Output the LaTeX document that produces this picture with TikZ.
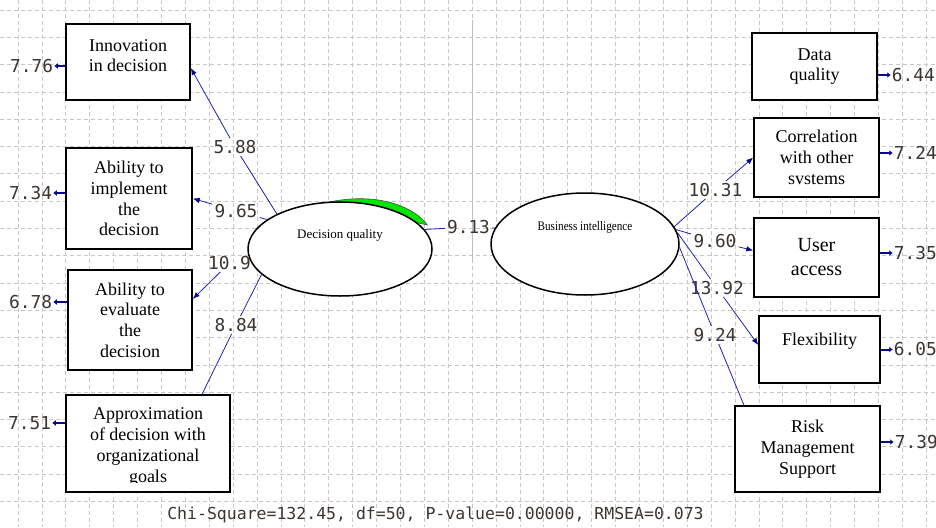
\documentclass[tikz,border=0pt]{standalone}
\usepackage{fontspec}
\setmainfont{Liberation Serif}
\newfontfamily\coeffont{DejaVu Sans Mono}
\usepackage{graphicx}
\usetikzlibrary{positioning, arrows.meta, shapes.geometric}
\pgfdeclarelayer{grid}
\pgfdeclarelayer{background}
\pgfsetlayers{grid,background,main}
\definecolor{pathblue}{RGB}{35,35,175}
\definecolor{tipblue}{RGB}{10,10,140}
\definecolor{valgray}{RGB}{60,54,50}
\definecolor{crescent}{RGB}{0,230,0}

\begin{document}
\begin{tikzpicture}
    [
        x=1pt, y=-1pt,
        grid_line/.style={black!22, line width=0.8pt, dash pattern=on 4pt off 3pt},
        latent_node/.style={ellipse, draw=black, fill=white, line width=1.5pt, inner sep=0pt},
        obs_box/.style={rectangle, draw=black, fill=white, line width=1.5pt, align=center, inner sep=0pt, font=\fontsize{18}{20.7}\selectfont},
        coef_label/.style={inner sep=2pt, text=valgray, font=\coeffont\fontsize{17.8}{20}\selectfont},
        err_label/.style={inner sep=1pt, text=valgray, font=\coeffont\fontsize{17.8}{20}\selectfont},
        path_line/.style={pathblue, line width=0.8pt},
        path_arrow/.style={path_line, -{Latex[length=7pt, width=5.5pt, color=tipblue]}},
        err_line/.style={tipblue, line width=2pt, -{Latex[length=3.5pt, width=6pt]}},
    ]
        \useasboundingbox (0,0) rectangle (936,527);
        \begin{pgfonlayer}{grid}
            \fill[white] (0,0) rectangle (936,527);
            \foreach \i in {0,...,38} \draw[grid_line] ({18+23.9*\i},0) -- ({18+23.9*\i},527);
            \foreach \j in {0,...,18} \draw[grid_line] (0,{10+27.3*\j}) -- (936,{10+27.3*\j});
            \draw[black!25, line width=1pt] (472.5,20) -- (472.5,262);
        \end{pgfonlayer}

        \node[latent_node, minimum width=184pt, minimum height=94pt, label={[font=\fontsize{13}{15}\selectfont, yshift=14pt]center:Decision quality}] (DQ) at (340,249) {};
        \node[latent_node, minimum width=188pt, minimum height=102pt, label={[font=\fontsize{13}{15}\selectfont, yshift=17pt]center:\scalebox{0.86}[1]{Business intelligence}}] (BI) at (585,244) {};

        \node[obs_box, minimum width=124pt, minimum height=76pt] (innov) at (128,62) {Innovation\\in decision\\[-8pt]\mbox{}};
        \node[obs_box, minimum width=126pt, minimum height=101pt] (impl) at (129,198.5) {Ability to\\implement\\the\\decision};
        \node[obs_box, minimum width=124pt, minimum height=100pt] (eval) at (130,320) {Ability to\\evaluate\\the\\decision};
        \node[obs_box, minimum width=164pt, minimum height=97pt] (appr) at (148,443.5) {};
        \begin{scope}
            \clip (appr.north west) rectangle ([yshift=10pt]appr.south east);
            \node[obs_box, draw=none, fill=none] (apprtext) at (148,447) {Approximation\\of decision with\\organizational\\goals};
        \end{scope}

        \node[obs_box, minimum width=125pt, minimum height=67pt] (dataq) at (814.5,66.5) {Data\\quality};
        \node[obs_box, minimum width=125pt, minimum height=79pt] (corr) at (816.5,157.5) {Correlation\\with other\\svstems};
        \node[obs_box, minimum width=125pt, minimum height=79pt, font=\fontsize{20}{24}\selectfont] (user) at (816.5,257.5) {User\\access};
        \node[obs_box, minimum width=121pt, minimum height=67pt] (flex) at (819.5,349.5) {Flexibility\\[0pt]\mbox{}};
        \node[obs_box, minimum width=145pt, minimum height=86pt] (risk) at (807.5,449) {Risk\\Management\\Support};

        \node[err_label, left=11pt of innov, yshift=-4pt] (e776) {7.76};
        \node[err_label, left=12pt of impl, yshift=5.5pt] (e734) {7.34};
        \node[err_label, left=14pt of eval, yshift=18pt] (e678) {6.78};
        \node[err_label, left=13pt of appr, yshift=20.5pt] (e751) {7.51};
        \node[err_label, right=13pt of dataq, yshift=-8.5pt] (e644) {6.44};
        \node[err_label, right=13pt of corr, yshift=4.5pt] (e724) {7.24};
        \node[err_label, right=13pt of user, yshift=4.5pt] (e735) {7.35};
        \node[err_label, right=12pt of flex] (e605) {6.05};
        \node[err_label, right=13pt of risk, yshift=7pt] (e739) {7.39};
        \draw[err_line] (innov.west |- e776) -- (e776);
        \draw[err_line] (impl.west |- e734) -- (e734);
        \draw[err_line] (eval.west |- e678) -- (e678);
        \draw[err_line] (appr.west |- e751) -- (e751);
        \draw[err_line] (dataq.east |- e644) -- (e644);
        \draw[err_line] (corr.east |- e724) -- (e724);
        \draw[err_line] (user.east |- e735) -- (e735);
        \draw[err_line] (flex.east |- e605) -- (e605);
        \draw[err_line] (risk.east |- e739) -- (e739);

        \node[coef_label] (fitline) at (435.5,515) [font=\coeffont\fontsize{16.5}{18}\selectfont] {Chi-Square=132.45, df=50, P-value=0.00000, RMSEA=0.073};

        \begin{pgfonlayer}{background}
            \fill[crescent, draw=black!70, line width=0.6pt] plot[domain=0:71, samples=40] ({340+(92+7.5*sin(\x*1.8))*cos(98-\x)}, {249-(47+7.5*sin(\x*1.8))*sin(98-\x)}) -- cycle;

            \node[coef_label] (c588) at (235,147) {5.88};
            \node[coef_label] (c965) at (236,211) {9.65};
            \node[coef_label] (c109) at (229.5,263) {10.9};
            \node[coef_label] (c884) at (236,325) {8.84};
            \node[coef_label] (c913) at (468.5,227) {9.13};
            \node[coef_label] (c1031) at (715.5,190) {10.31};
            \node[coef_label] (c960) at (715,241) {9.60};
            \node[coef_label] (c1392) at (717,288) {13.92};
            \node[coef_label] (c924) at (715,335) {9.24};

            \draw[path_line] (DQ.151) -- (c588);
            \draw[path_arrow] (c588) -- ([yshift=-6pt]innov.east);
            \draw[path_line] (DQ.158) -- (c965);
            \draw[path_arrow] (c965) -- (impl.east);
            \draw[path_arrow] (c109) -- ([yshift=21pt]eval.east);
            \draw[path_line] (DQ.198) -- (c884);
            \draw[path_line] (c884) -- ([xshift=54pt]appr.north);
            \draw[path_line] (DQ.13) -- (c913);
            \draw[path_line] (c913) -- (BI.170);
            \draw[path_line] (BI.11) -- (c1031);
            \draw[path_arrow] (c1031) -- (corr.west);
            \draw[path_line] (BI.9) -- (c960);
            \draw[path_arrow] (c960) -- ([yshift=7pt]user.west);
            \draw[path_line] (BI.7) -- (c1392);
            \draw[path_arrow] (c1392) -- ([yshift=4.5pt]flex.west);
            \draw[path_line] (BI.-2) -- (c924);
            \draw[path_line] (c924) -- ([xshift=-63.5pt]risk.north);
        \end{pgfonlayer}
\end{tikzpicture}
\end{document}
